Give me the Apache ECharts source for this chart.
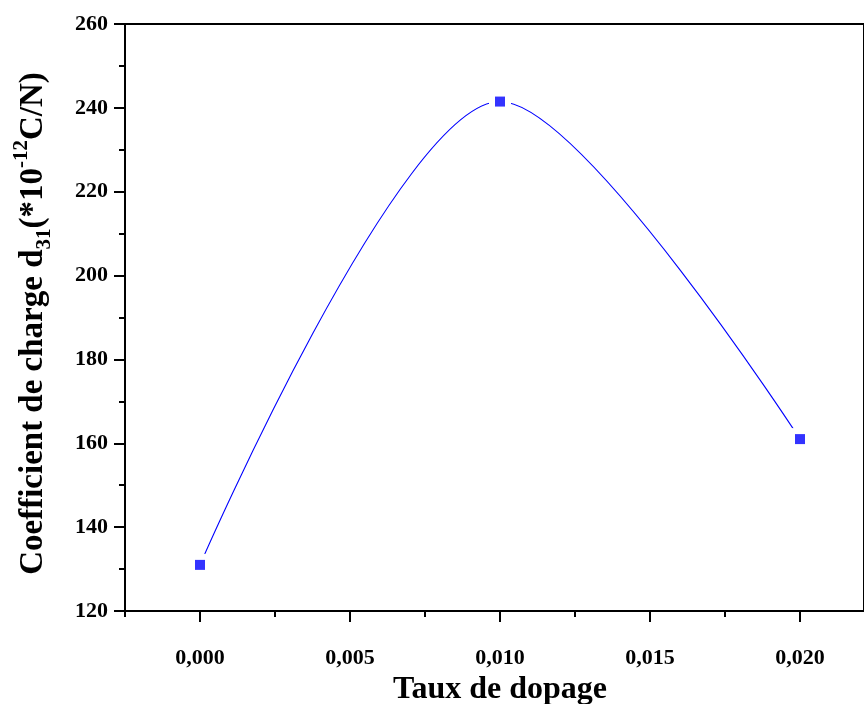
<!DOCTYPE html>
<html>
<head>
<meta charset="utf-8">
<script src="https://cdn.jsdelivr.net/npm/echarts@6/dist/echarts.min.js"></script>
<style>
  html, body { margin: 0; padding: 0; background: #fff; }
  #chart { width: 864px; height: 704px; }
</style>
</head>
<body>
<div id="chart"></div>
<script>
// Doping rate (x) and charge coefficient d31 (y, in 1e-12 C/N)
const dopingRates = [0.000, 0.010, 0.020];
const d31Values = [131, 241.5, 161];

// Axis tick positions
const xMajorTicks = [0.000, 0.005, 0.010, 0.015, 0.020];
const xMinorTicks = [-0.0025, 0.0025, 0.0075, 0.0125, 0.0175];

const points = dopingRates.map((x, i) => [x, d31Values[i]]);
const FONT = '"Liberation Serif", "Times New Roman", serif';
const fmtX = v => v.toFixed(3).replace('.', ',');

const chart = echarts.init(document.getElementById('chart'), null, { renderer: 'canvas' });

chart.setOption({
  animation: false,
  backgroundColor: '#fff',
  grid: {
    left: 125, top: 24, height: 587, right: 0,
    outerBoundsMode: 'none',
    containLabel: false,
    show: true, borderColor: '#000', borderWidth: 2, backgroundColor: 'transparent'
  },
  xAxis: [{
    type: 'value',
    min: -0.0025, max: 0.0221333,
    position: 'bottom',
    name: 'Taux de dopage',
    nameLocation: 'middle',
    nameGap: 62,
    nameTextStyle: { fontFamily: FONT, fontWeight: 'bold', fontSize: 32, color: '#000', padding: [0, 0, 0, 11] },
    axisLine: { show: true, onZero: false, lineStyle: { color: '#000', width: 2 } },
    axisTick: { show: true, customValues: xMajorTicks, length: 11, lineStyle: { color: '#000', width: 2 } },
    axisLabel: {
      customValues: xMajorTicks, formatter: fmtX, margin: 36,
      fontFamily: FONT, fontWeight: 'bold', fontSize: 22, color: '#000'
    },
    splitLine: { show: false }
  }, {
    type: 'value',
    min: -0.0025, max: 0.0221333,
    position: 'bottom',
    axisLine: { show: false },
    axisTick: { show: true, customValues: xMinorTicks, length: 6, lineStyle: { color: '#000', width: 2 } },
    axisLabel: { show: false },
    splitLine: { show: false }
  }],
  yAxis: {
    type: 'value',
    min: 120, max: 260, interval: 20,
    name: 'Coefficient de charge d{sub|31}(*10{sup|-12}C/N)',
    nameLocation: 'middle',
    nameGap: 70,
    nameTextStyle: {
      fontFamily: FONT, fontWeight: 'bold', fontSize: 33, color: '#000', lineHeight: 44,
      padding: [0, 12, 0, 0],
      rich: {
        sub: { fontFamily: FONT, fontWeight: 'bold', fontSize: 21, color: '#000', verticalAlign: 'bottom', lineHeight: 44 },
        sup: { fontFamily: FONT, fontWeight: 'bold', fontSize: 21, color: '#000', verticalAlign: 'top', lineHeight: 44 }
      }
    },
    axisLine: { show: true, onZero: false, lineStyle: { color: '#000', width: 2 } },
    axisTick: { show: true, length: 11, lineStyle: { color: '#000', width: 2 } },
    minorTick: { show: true, splitNumber: 2, length: 6, lineStyle: { color: '#000', width: 2 } },
    axisLabel: { margin: 17, fontFamily: FONT, fontWeight: 'bold', fontSize: 22, color: '#000' },
    splitLine: { show: false },
    minorSplitLine: { show: false }
  },
  series: [{
    // smooth curve; white symbols leave a gap in the line around each point
    type: 'line',
    data: points,
    smooth: 0.3,
    symbol: 'rect',
    symbolSize: 22,
    itemStyle: { color: '#fff', borderWidth: 0 },
    lineStyle: { color: '#0000ff', width: 1.1 },
    z: 2
  }, {
    type: 'scatter',
    data: points,
    symbol: 'rect',
    symbolSize: 10,
    itemStyle: { color: '#0000ff' },
    z: 3
  }]
});
</script>
</body>
</html>
